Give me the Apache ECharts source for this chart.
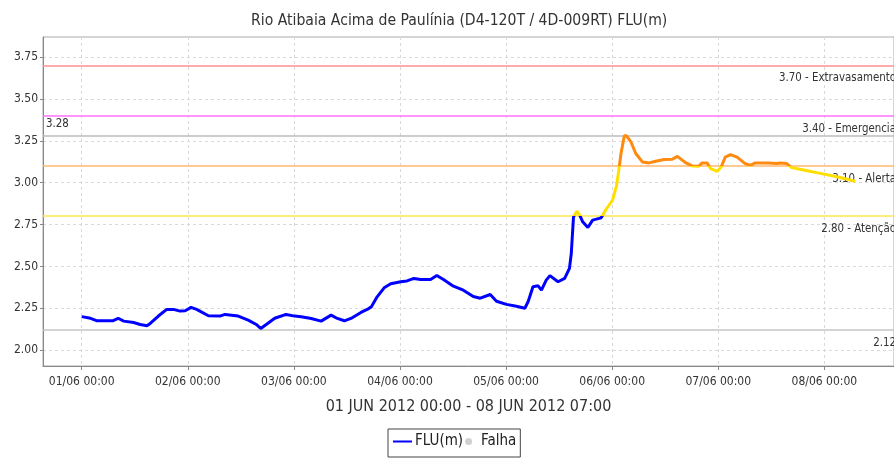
<!DOCTYPE html>
<html>
<head>
<meta charset="utf-8">
<script src="https://cdn.jsdelivr.net/npm/echarts@6/dist/echarts.min.js"></script>
<style>
  html, body { margin: 0; padding: 0; background: #fff; }
  #main { width: 894px; height: 458px; }
</style>
</head>
<body>
<div id="main"></div>
<script>
/*
 * nivel FLU(m) - Rio Atibaia Acima de Paulinia
 */
var times = [
  '2012-06-01 00:00', '2012-06-01 02:00', '2012-06-01 03:30', '2012-06-01 07:00', '2012-06-01 08:15',
  '2012-06-01 09:30', '2012-06-01 11:45', '2012-06-01 13:15', '2012-06-01 14:45', '2012-06-01 15:30',
  '2012-06-01 17:25', '2012-06-01 19:15', '2012-06-01 20:45', '2012-06-01 22:15', '2012-06-01 23:25',
  '2012-06-02 00:45', '2012-06-02 02:00', '2012-06-02 04:40', '2012-06-02 07:15', '2012-06-02 08:25',
  '2012-06-02 11:25', '2012-06-02 13:40', '2012-06-02 15:30', '2012-06-02 16:30', '2012-06-02 17:45',
  '2012-06-02 19:40', '2012-06-02 22:15', '2012-06-03 00:10', '2012-06-03 01:40', '2012-06-03 03:55',
  '2012-06-03 06:10', '2012-06-03 08:25', '2012-06-03 09:50', '2012-06-03 11:25', '2012-06-03 12:55',
  '2012-06-03 15:10', '2012-06-03 16:35', '2012-06-03 17:30', '2012-06-03 18:50', '2012-06-03 20:25',
  '2012-06-03 21:55', '2012-06-04 00:10', '2012-06-04 01:35', '2012-06-04 03:10', '2012-06-04 04:40',
  '2012-06-04 06:55', '2012-06-04 08:20', '2012-06-04 09:50', '2012-06-04 12:05', '2012-06-04 14:20',
  '2012-06-04 16:35', '2012-06-04 18:10', '2012-06-04 20:25', '2012-06-04 21:50', '2012-06-05 00:05',
  '2012-06-05 02:20', '2012-06-05 04:15', '2012-06-05 05:00', '2012-06-05 06:05', '2012-06-05 07:15',
  '2012-06-05 08:00', '2012-06-05 09:05', '2012-06-05 09:55', '2012-06-05 11:45', '2012-06-05 13:15',
  '2012-06-05 14:20', '2012-06-05 14:45', '2012-06-05 15:15', '2012-06-05 16:00', '2012-06-05 16:35',
  '2012-06-05 17:20', '2012-06-05 18:30', '2012-06-05 19:35', '2012-06-05 21:30', '2012-06-05 22:35',
  '2012-06-06 00:05', '2012-06-06 01:00', '2012-06-06 01:30', '2012-06-06 02:00', '2012-06-06 02:45',
  '2012-06-06 03:15', '2012-06-06 04:15', '2012-06-06 05:20', '2012-06-06 06:50', '2012-06-06 08:20',
  '2012-06-06 09:50', '2012-06-06 11:45', '2012-06-06 13:35', '2012-06-06 14:45', '2012-06-06 16:35',
  '2012-06-06 18:05', '2012-06-06 19:35', '2012-06-06 20:20', '2012-06-06 21:30', '2012-06-06 22:15',
  '2012-06-06 23:45', '2012-06-07 00:40', '2012-06-07 01:35', '2012-06-07 02:45', '2012-06-07 04:15',
  '2012-06-07 06:05', '2012-06-07 07:15', '2012-06-07 08:20', '2012-06-07 11:20', '2012-06-07 13:15',
  '2012-06-07 14:00', '2012-06-07 15:30', '2012-06-07 16:35', '2012-06-07 19:35', '2012-06-07 23:20',
  '2012-06-08 03:05', '2012-06-08 07:00'
];
var levels = [
  2.200, 2.190, 2.175, 2.175, 2.190,
  2.173, 2.165, 2.153, 2.145, 2.159,
  2.205, 2.243, 2.243, 2.233, 2.235,
  2.255, 2.243, 2.205, 2.203, 2.213,
  2.203, 2.179, 2.153, 2.129, 2.153,
  2.190, 2.213, 2.203, 2.199, 2.189,
  2.173, 2.209, 2.189, 2.175, 2.189,
  2.225, 2.243, 2.258, 2.318, 2.372,
  2.396, 2.408, 2.413, 2.428, 2.422,
  2.422, 2.446, 2.422, 2.382, 2.358,
  2.320, 2.310, 2.332, 2.292, 2.273,
  2.262, 2.250, 2.290, 2.378, 2.384,
  2.358, 2.418, 2.445, 2.408, 2.428,
  2.488, 2.577, 2.795, 2.829, 2.810,
  2.766, 2.732, 2.776, 2.790, 2.839,
  2.895, 2.984, 3.074, 3.174, 3.280,
  3.280, 3.243, 3.174, 3.124, 3.118,
  3.128, 3.138, 3.140, 3.157, 3.120,
  3.100, 3.098, 3.118, 3.118, 3.084,
  3.068, 3.094, 3.153, 3.168, 3.153,
  3.114, 3.104, 3.118, 3.118, 3.114,
  3.118, 3.114, 3.090, 3.074, 3.054,
  3.034, 3.008
];

// marcas do eixo y
var yTicks = [2.00, 2.25, 2.50, 2.75, 3.00, 3.25, 3.50, 3.75];

// cotas de referencia
var limitValues = [3.70, 3.40, 3.28, 3.10, 2.80, 2.12];
var limitLabels = ['3.70 - Extravasamento', '3.40 - Emergencia', '3.28', '3.10 - Alerta', '2.80 - Atenção', '2.12'];

var chartTitle = 'Rio Atibaia Acima de Paulínia (D4-120T / 4D-009RT) FLU(m)';
var periodName = '01 JUN 2012 00:00 - 08 JUN 2012 07:00';
var seriesNames = ['FLU(m)', 'Falha'];

var FONT = "'DejaVu Sans Condensed', 'DejaVu Sans', sans-serif";
var limitColors = ['#ff8f8f', '#ff70ff', '#bdbdbd', '#ffb870', '#ffe64d', '#c4c4c4'];

var data = [];
for (var i = 0; i < times.length; i++) {
  data.push([times[i], levels[i]]);
}

var markData = [];
for (var j = 0; j < limitValues.length; j++) {
  var isLeft = limitLabels[j] === '3.28';
  markData.push({
    yAxis: limitValues[j],
    lineStyle: { color: limitColors[j], width: 1.5, type: 'solid' },
    label: {
      show: true,
      formatter: limitLabels[j],
      position: isLeft ? 'insideStartTop' : 'insideEndBottom',
      distance: isLeft ? [3, 6] : [-2, 7.5],
      color: '#333',
      fontFamily: FONT,
      fontSize: 11.4
    }
  });
}

var chart = echarts.init(document.getElementById('main'));
var option = {
  backgroundColor: '#fff',
  animation: false,
  title: {
    text: chartTitle,
    left: 246,
    top: 8,
    textStyle: { fontFamily: FONT, fontSize: 15.6, fontWeight: 'normal', color: '#333' }
  },
  legend: {
    left: 388,
    top: 429,
    padding: [5, 4, 8, 4],
    borderColor: '#444',
    borderWidth: 1,
    itemGap: 2,
    itemWidth: 19,
    itemHeight: 7,
    textStyle: { fontFamily: FONT, fontSize: 15, color: '#222', padding: [0, 0, 0, -2] },
    data: [
      { name: seriesNames[0], itemStyle: { color: '#0000ff', opacity: 0 }, lineStyle: { color: '#0000ff', width: 2 } },
      { name: seriesNames[1], icon: 'circle', itemStyle: { color: '#c4c4c4' } }
    ]
  },
  grid: { left: 43, right: -4, top: 37, bottom: 92, show: true, borderColor: '#aaa', borderWidth: 1 },
  visualMap: {
    show: false,
    type: 'piecewise',
    seriesIndex: 0,
    dimension: 1,
    pieces: [
      { lt: 2.8, color: '#0000ff' },
      { gte: 2.8, lt: 3.1, color: '#ffdf00' },
      { gte: 3.1, color: '#ff8a10' }
    ]
  },
  xAxis: {
    type: 'time',
    min: '2012-05-31 15:15',
    max: '2012-06-08 15:45',
    minInterval: 86400000,
    maxInterval: 86400000,
    name: periodName,
    nameLocation: 'middle',
    nameGap: 33,
    nameTextStyle: { fontFamily: FONT, fontSize: 16, color: '#333' },
    axisLine: { lineStyle: { color: '#888' } },
    axisTick: { show: true, length: 4, lineStyle: { color: '#888' } },
    axisLabel: {
      formatter: '{dd}/{MM} {HH}:{mm}',
      fontFamily: FONT,
      fontSize: 12,
      color: '#333',
      margin: 10,
      showMinLabel: false,
      showMaxLabel: false,
      hideOverlap: false
    },
    splitLine: { show: true, lineStyle: { color: '#d9d9d9', type: [3, 3] } }
  },
  yAxis: {
    type: 'value',
    min: 1.905,
    max: 3.87,
    axisLine: { show: true, lineStyle: { color: '#888' } },
    axisTick: { show: true, length: 3, customValues: yTicks, lineStyle: { color: '#888' } },
    axisLabel: {
      customValues: yTicks,
      formatter: function (v) { return v.toFixed(2); },
      fontFamily: FONT,
      fontSize: 12,
      color: '#333',
      margin: 5
    },
    splitLine: { show: true, lineStyle: { color: '#d9d9d9', type: [3, 3] } }
  },
  series: [
    {
      name: seriesNames[0],
      type: 'line',
      data: data,
      showSymbol: false,
      symbol: 'none',
      lineStyle: { width: 3 },
      z: 5
    },
    {
      name: seriesNames[1],
      type: 'scatter',
      data: [],
      itemStyle: { color: '#c4c4c4' }
    },
    {
      name: 'cotas',
      type: 'line',
      data: [],
      markLine: {
        silent: true,
        symbol: 'none',
        data: markData
      },
      z: 2
    }
  ]
};
chart.setOption(option);
</script>
</body>
</html>
